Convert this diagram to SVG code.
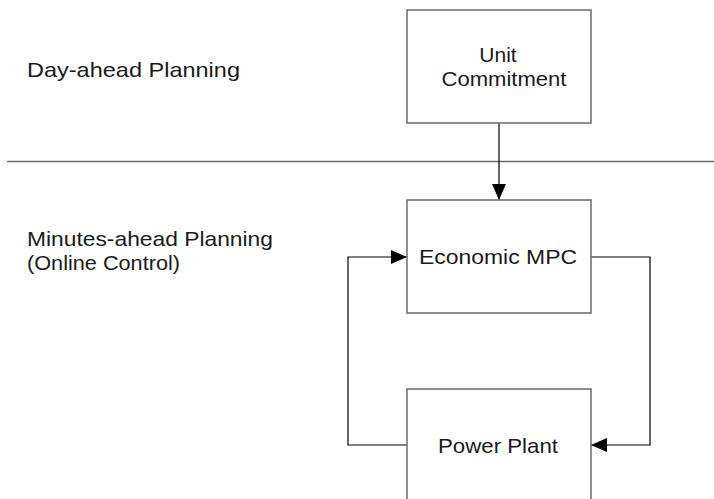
<svg xmlns="http://www.w3.org/2000/svg" width="714" height="499" viewBox="0 0 714 499">
  <style>
    .box { fill: #ffffff; stroke: #6b6b6b; stroke-width: 1.5; }
    .lbl { font-family: "Liberation Sans", Arial, sans-serif; font-size: 21px; fill: #1a1a1a; }
    .mid { text-anchor: middle; }
    .wire { fill: none; stroke: #000000; stroke-width: 1.2; }
    .sep { stroke: #6b6b6b; stroke-width: 1.5; }
  </style>
  <defs>
    <marker id="arrow" viewBox="0 0 16 14" refX="16" refY="7" markerWidth="16" markerHeight="14" markerUnits="userSpaceOnUse" orient="auto">
      <path d="M0,0 L16,7 L0,14 Z" fill="#000000"/>
    </marker>
  </defs>

  <rect width="714" height="499" fill="#ffffff"/>

  <!-- planning horizon labels -->
  <text class="lbl" x="27" y="77" textLength="213" lengthAdjust="spacingAndGlyphs">Day-ahead Planning</text>
  <text class="lbl" x="27" y="246" textLength="246" lengthAdjust="spacingAndGlyphs">Minutes-ahead Planning</text>
  <text class="lbl" x="27" y="270" textLength="153" lengthAdjust="spacingAndGlyphs">(Online Control)</text>

  <!-- separator between the two planning layers -->
  <line class="sep" x1="7" y1="161.5" x2="714" y2="161.5"/>

  <g id="connectors">
    <path class="wire" d="M499,123 L499,200" marker-end="url(#arrow)"/>
    <path class="wire" d="M591,257 L650,257 L650,445 L591,445" marker-end="url(#arrow)"/>
    <path class="wire" d="M407,445 L348,445 L348,257 L407,257" marker-end="url(#arrow)"/>
  </g>

  <g id="unit-commitment">
    <rect class="box" x="407" y="10" width="184" height="113"/>
    <text class="lbl mid" x="498" y="62">Unit</text>
    <text class="lbl mid" x="504" y="86" textLength="125" lengthAdjust="spacingAndGlyphs">Commitment</text>
  </g>

  <g id="economic-mpc">
    <rect class="box" x="407" y="200" width="184" height="113"/>
    <text class="lbl" x="419" y="264" textLength="158" lengthAdjust="spacingAndGlyphs">Economic MPC</text>
  </g>

  <g id="power-plant">
    <rect class="box" x="407" y="389" width="184" height="120"/>
    <text class="lbl" x="438" y="453" textLength="120" lengthAdjust="spacingAndGlyphs">Power Plant</text>
  </g>
</svg>
